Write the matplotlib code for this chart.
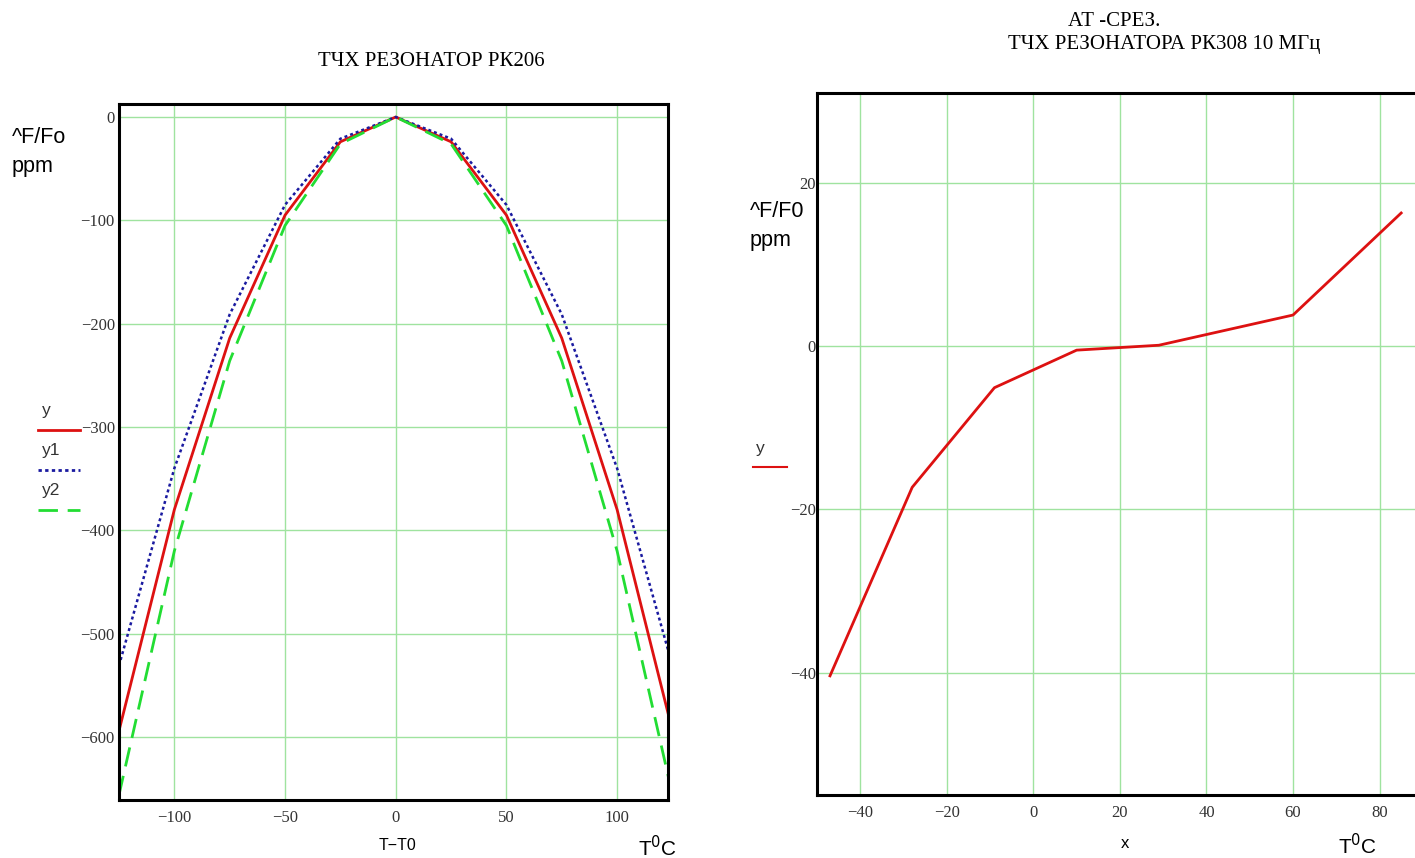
import matplotlib.pyplot as plt

# Left panel data (temperature offset T-T0 vs frequency deviation, ppm)
dt = [-125, -100, -75, -50, -25, 0, 25, 50, 75, 100, 125]
y = [-594, -380, -214, -95, -24, 0, -24, -95, -214, -380, -594]
y1 = [-531, -340, -191, -85, -21, 0, -21, -85, -191, -340, -531]
y2 = [-656, -420, -236, -105, -26, 0, -26, -105, -236, -420, -656]

# Right panel data (AT-cut, RK308 10 MHz)
temp = [-47, -28, -9, 10, 29, 60, 85]
dev = [-40.4, -17.3, -5.1, -0.5, 0.1, 3.8, 16.3]

left_xticks = [-100, -50, 0, 50, 100]
left_yticks = [0, -100, -200, -300, -400, -500, -600]
right_xticks = [-40, -20, 0, 20, 40, 60, 80]
right_yticks = [20, 0, -20, -40]

serif = "Liberation Serif"
sans = "Liberation Sans"
grid_c = "#9fe39f"
red = "#dd1111"
blue = "#1a1aa0"
green = "#22dd33"

fig = plt.figure(figsize=(14.15, 8.58), dpi=100)


def style_axes(ax, xt, yt):
    ax.set_xticks(xt)
    ax.set_yticks(yt)
    ax.set_xticklabels([str(v).replace("-", "\u2212") for v in xt],
                       fontfamily=serif, fontsize=12, color="#333333")
    ax.set_yticklabels([str(v).replace("-", "\u2212") for v in yt],
                       fontfamily=serif, fontsize=12, color="#333333")
    ax.tick_params(length=0, pad=7)
    ax.grid(True, color=grid_c, linewidth=1)
    ax.set_axisbelow(True)
    for s in ax.spines.values():
        s.set_linewidth(2.2)
        s.set_color("black")


# Left panel
ax1 = fig.add_axes([0.0841, 0.0676, 0.388, 0.8112])
ax1.plot(dt, y, color=red, linewidth=2)
ax1.plot(dt, y1, color=blue, linewidth=1.8, linestyle=(0, (1.2, 1.2)))
ax1.plot(dt, y2, color=green, linewidth=2, linestyle=(0, (7, 3.5)))
ax1.set_xlim(-125, 123)
ax1.set_ylim(-661, 12.6)
style_axes(ax1, left_xticks, left_yticks)
ax1.tick_params(axis="y", pad=3)

fig.text(431 / 1415, 1 - 61 / 858, "ТЧХ РЕЗОНАТОР РК206", fontfamily=serif,
         fontsize=15, ha="center", va="center")
fig.text(12 / 1415, 1 - 152 / 858, "^F/Fo\nppm", fontfamily=sans,
         fontsize=15.5, ha="left", va="center", linespacing=1.45)
fig.text(398 / 1415, 1 - 845 / 858, "T\u2212T0", fontfamily=sans,
         fontsize=11.5, ha="center", va="center")
fig.text(658 / 1415, 1 - 848 / 858, "T$^{0}$C", fontfamily=sans,
         fontsize=15, ha="center", va="center")

# Left legend (Mathcad style: name above a line sample)
leg = [("y", red, "-", 430, 411), ("y1", blue, (0, (1.2, 1.2)), 470, 451),
       ("y2", green, (0, (7, 3.5)), 510, 490)]
for name, c, ls, ly, ty in leg:
    fig.text(42 / 1415, 1 - ty / 858, name, fontfamily=sans, fontsize=12.5,
             ha="left", va="center", color="#333333")
    fig.add_artist(plt.Line2D([38 / 1415, 80 / 1415], [1 - ly / 858, 1 - ly / 858],
                              color=c, linewidth=2, linestyle=ls))

# Right panel
ax2 = fig.add_axes([0.5774, 0.0734, 0.4587, 0.8182])
ax2.plot(temp, dev, color=red, linewidth=2)
ax2.set_xlim(-50, 100)
ax2.set_ylim(-55, 31)
style_axes(ax2, right_xticks, right_yticks)
ax2.tick_params(axis="y", pad=1)

fig.text(1114 / 1415, 1 - 22 / 858, "АТ -СРЕЗ.", fontfamily=serif,
         fontsize=15, ha="center", va="center")
fig.text(1164 / 1415, 1 - 44 / 858, "ТЧХ РЕЗОНАТОРА РК308 10 МГц",
         fontfamily=serif, fontsize=15, ha="center", va="center")
fig.text(750 / 1415, 1 - 226 / 858, "^F/F0\nppm", fontfamily=sans,
         fontsize=15.5, ha="left", va="center", linespacing=1.45)
fig.text(1125 / 1415, 1 - 843 / 858, "x", fontfamily=sans,
         fontsize=12, ha="center", va="center")
fig.text(1358 / 1415, 1 - 846 / 858, "T$^{0}$C", fontfamily=sans,
         fontsize=15, ha="center", va="center")
fig.text(756 / 1415, 1 - 449 / 858, "y", fontfamily=sans, fontsize=12.5,
         ha="left", va="center", color="#333333")
fig.add_artist(plt.Line2D([753 / 1415, 787 / 1415], [1 - 467 / 858, 1 - 467 / 858],
                          color=red, linewidth=1.5))

fig.savefig("out.png", dpi=100)
